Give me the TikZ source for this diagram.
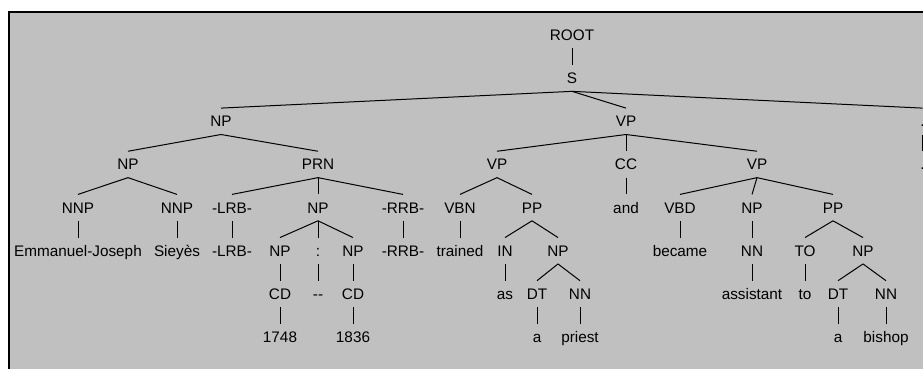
\documentclass[tikz,border=0pt]{standalone}
\usepackage{fontspec}
\setmainfont{Liberation Sans}
\definecolor{panel}{RGB}{192,192,192}
\begin{document}
\begin{tikzpicture}[x=1pt,y=-1pt,
  tn/.style={inner xsep=0pt, inner ysep=7.5pt, text height=11pt, text depth=0pt,
    font=\fontsize{15.3}{18}\selectfont, text=black},
  edge/.style={draw=black, line width=1pt}]
\useasboundingbox (0,0) rectangle (923,369);
\clip (0,0) rectangle (923,369);
\fill[white] (0,0) rectangle (923,369);
\fill[black] (8,11) rectangle (923,369);
\fill[panel] (10,13) rectangle (923,369);
% level y positions
\def\la{35}\def\lb{78.15}\def\lc{121.3}\def\ld{164.45}
\def\le{207.6}\def\lf{250.75}\def\lg{293.9}\def\lh{337.05}
% nodes
\node[tn] (root) at (572,\la) {ROOT};
\node[tn] (s) at (572,\lb) {S};
\node[tn] (np1) at (221,\lc) {NP};
\node[tn] (vp1) at (626,\lc) {VP};
\node[tn] (pu1) at (922.5,\lc) {.};
\node[tn] (np2) at (128,\ld) {NP};
\node[tn] (prn) at (318,\ld) {PRN};
\node[tn] (vp2) at (497,\ld) {VP};
\node[tn] (cc) at (626,\ld) {CC};
\node[tn] (vp3) at (757,\ld) {VP};
\node[tn] (pu2) at (922.5,\ld) {.};
\node[tn] (nnp1) at (78,\le) {NNP};
\node[tn] (nnp2) at (177,\le) {NNP};
\node[tn] (lrb1) at (232,\le) {-LRB-};
\node[tn] (np3) at (318,\le) {NP};
\node[tn] (rrb1) at (403,\le) {-RRB-};
\node[tn] (vbn) at (460,\le) {VBN};
\node[tn] (pp1) at (532,\le) {PP};
\node[tn] (and) at (626,\le) {and};
\node[tn] (vbd) at (680,\le) {VBD};
\node[tn] (np4) at (752,\le) {NP};
\node[tn] (pp2) at (833,\le) {PP};
\node[tn] (emm) at (78,\lf) {Emmanuel-Joseph};
\node[tn] (sie) at (177,\lf) {Sieyès};
\node[tn] (lrb2) at (232,\lf) {-LRB-};
\node[tn] (np5) at (280,\lf) {NP};
\node[tn] (colon) at (318,\lf) {:};
\node[tn] (np6) at (353,\lf) {NP};
\node[tn] (rrb2) at (403,\lf) {-RRB-};
\node[tn] (trained) at (460,\lf) {trained};
\node[tn] (in) at (505,\lf) {IN};
\node[tn] (np7) at (558,\lf) {NP};
\node[tn] (became) at (680,\lf) {became};
\node[tn] (nn1) at (752,\lf) {NN};
\node[tn] (totag) at (805,\lf) {TO};
\node[tn] (np8) at (863,\lf) {NP};
\node[tn] (cd1) at (280,\lg) {CD};
\node[tn] (dash) at (318,\lg) {-{}-};
\node[tn] (cd2) at (353,\lg) {CD};
\node[tn] (as) at (505,\lg) {as};
\node[tn] (dt1) at (537,\lg) {DT};
\node[tn] (nn2) at (580,\lg) {NN};
\node[tn] (assistant) at (752,\lg) {assistant};
\node[tn] (to) at (805,\lg) {to};
\node[tn] (dt2) at (838,\lg) {DT};
\node[tn] (nn3) at (886,\lg) {NN};
\node[tn] (y1) at (280,\lh) {1748};
\node[tn] (y2) at (353,\lh) {1836};
\node[tn] (a1) at (537,\lh) {a};
\node[tn] (priest) at (580,\lh) {priest};
\node[tn] (a2) at (838,\lh) {a};
\node[tn] (bishop) at (886,\lh) {bishop};
% edges
\foreach \p/\c in {root/s, s/np1, s/vp1, s/pu1, pu1/pu2,
  np1/np2, np1/prn, vp1/vp2, vp1/cc, vp1/vp3,
  np2/nnp1, np2/nnp2, prn/lrb1, prn/np3, prn/rrb1,
  vp2/vbn, vp2/pp1, cc/and, vp3/vbd, vp3/np4, vp3/pp2,
  nnp1/emm, nnp2/sie, lrb1/lrb2, np3/np5, np3/colon, np3/np6, rrb1/rrb2,
  vbn/trained, pp1/in, pp1/np7, vbd/became, np4/nn1, pp2/totag, pp2/np8,
  np5/cd1, colon/dash, np6/cd2, in/as, np7/dt1, np7/nn2, nn1/assistant,
  totag/to, np8/dt2, np8/nn3,
  cd1/y1, cd2/y2, dt1/a1, nn2/priest, dt2/a2, nn3/bishop}
  \draw[edge] (\p.south) -- (\c.north);
\end{tikzpicture}
\end{document}
